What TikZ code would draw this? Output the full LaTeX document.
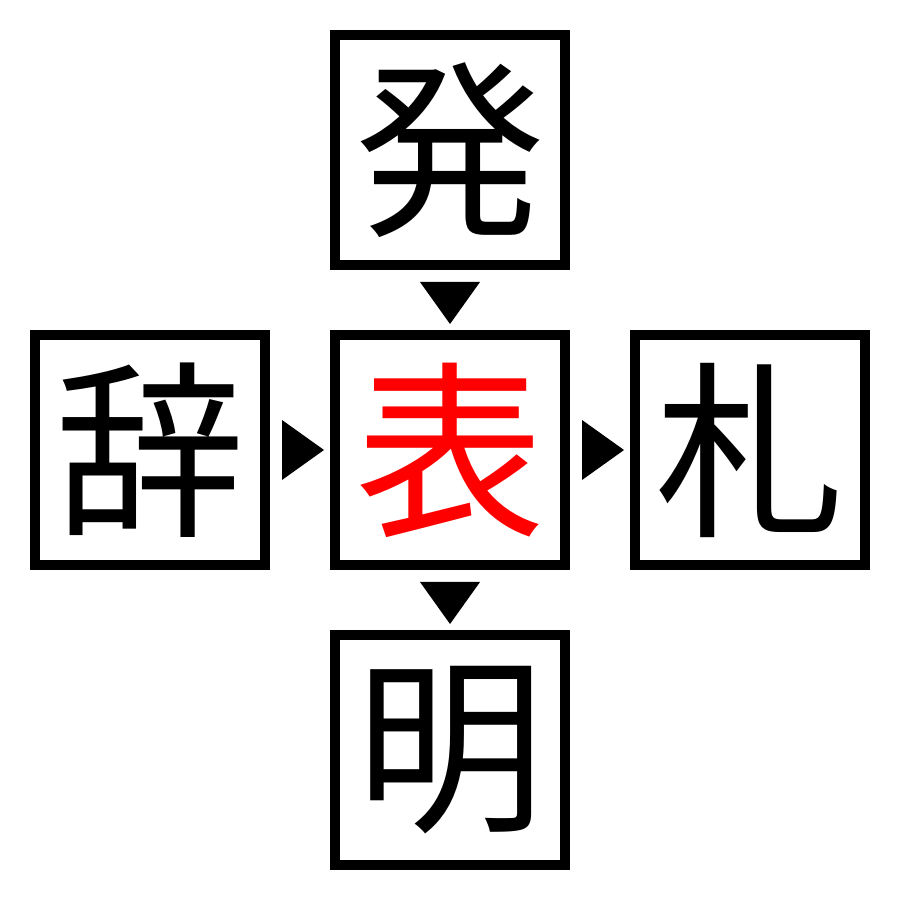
\documentclass[tikz,border=0pt]{standalone}
\usepackage{xcolor}
\usepackage{fontspec}
\usepackage{tikz}
\usetikzlibrary{positioning, calc}
\newfontfamily\kanji{Noto Sans CJK JP}
\definecolor{pastelred}{rgb}{1.0, 0.0, 0.0}

\begin{document}
\begin{tikzpicture}[kbox/.style={draw, line width=0.1cm, minimum size=2.3cm, inner sep=0pt, font=\kanji\fontsize{54}{54}\selectfont}]
	\useasboundingbox (0,0) rectangle (9,9);
	%%\draw[help lines] (0,0) grid (9,9);
	\node[kbox] (hyo) at (4.5, 4.5) {\textcolor{pastelred}{表}};
	\node[kbox] (hatsu) at (4.5, 7.5) {発};
	\node[kbox] (ji) at (1.5, 4.5) {辞};
	\node[kbox] (satsu) at (7.5, 4.5) {札};
	\node[kbox] (mei) at (4.5, 1.5) {明};
	
	\fill ($(hatsu.south)!0.5!(hyo.north)$) ++(-0.3, 0.18) -- ++(0.6, 0) -- ++(-0.3, -0.42) -- cycle;
	\fill ($(hyo.south)!0.5!(mei.north)$) ++(-0.3, 0.18) -- ++(0.6, 0) -- ++(-0.3, -0.42) -- cycle;
	\fill ($(ji.east)!0.5!(hyo.west)$) ++(-0.18, 0.3) -- ++(0, -0.6) -- ++(0.42, 0.3) -- cycle;
	\fill ($(hyo.east)!0.5!(satsu.west)$) ++(-0.18, 0.3) -- ++(0, -0.6) -- ++(0.42, 0.3) -- cycle;
\end{tikzpicture}
\end{document}
